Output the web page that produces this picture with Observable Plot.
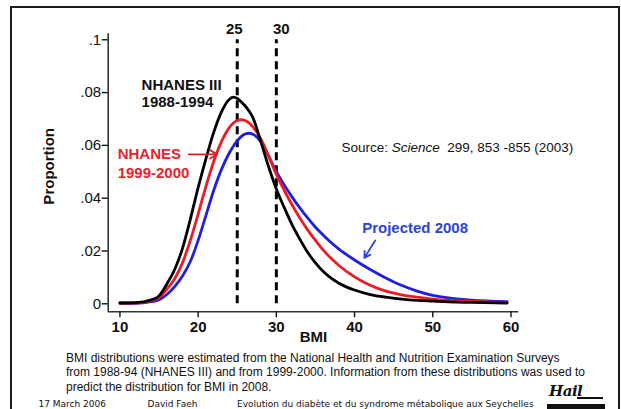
<!DOCTYPE html>
<html><head><meta charset="utf-8">
<script src="https://cdn.jsdelivr.net/npm/d3@7"></script>
<script src="https://cdn.jsdelivr.net/npm/@observablehq/plot@0.6"></script>
<style>
html,body{margin:0;padding:0;background:#fff;}
#page{position:relative;width:621px;height:409px;overflow:hidden;font-family:"Liberation Sans",Arial,sans-serif;background:#fff;}
#frame{position:absolute;left:10px;top:6px;width:606px;height:420px;border:2.5px solid #1b1b1b;border-bottom:none;}
#chart{position:absolute;left:0;top:0;}
#caption{position:absolute;left:66px;top:350.5px;font-size:12px;line-height:14.5px;color:#111;white-space:nowrap;}
.foot{position:absolute;top:399.3px;font-family:"DejaVu Sans",Verdana,sans-serif;font-size:9px;color:#111;white-space:nowrap;}
#logo{position:absolute;left:547px;top:382px;width:60px;height:30px;}
#logo .sig{position:absolute;left:2px;top:0;font-family:"DejaVu Serif",serif;font-style:italic;font-weight:bold;font-size:15px;color:#111;letter-spacing:-0.5px;}
#logo .ul{position:absolute;left:30px;top:15px;width:26px;height:1.5px;background:#111;}
#logo .bar{position:absolute;left:0;top:22px;width:58px;height:5px;background:#111;}
</style>
</head>
<body>
<div id="page">
  <div id="frame"></div>
  <div id="chart"></div>
  <div id="caption">BMI distributions were estimated from the National Health and Nutrition Examination Surveys<br>from 1988-94 (NHANES III) and from 1999-2000. Information from these distributions was used to<br>predict the distribution for BMI in 2008.</div>
  <div class="foot" style="left:38.5px">17 March 2006</div>
  <div class="foot" style="left:147.5px">David Faeh</div>
  <div class="foot" style="left:237px">Evolution du diabète et du syndrome métabolique aux Seychelles</div>
  <div id="logo"><div class="sig">Hail</div><div class="ul"></div><div class="bar"></div></div>
</div>
<script>
// BMI grid (x values) shared by the three distributions
const bmi      = [10, 12, 14, 15, 16, 17, 18, 19, 20, 21, 22, 23, 24, 24.5, 25, 25.5, 26, 26.5, 27, 28, 29, 30, 31, 32, 33, 34, 35, 36, 37, 38, 40, 42, 44, 46, 48, 50, 52, 55, 59.5];
// NHANES III 1988-1994 (black)
const nhanes3  = [0.0003, 0.0004, 0.0015, 0.003, 0.0075, 0.013, 0.021, 0.032, 0.044, 0.055, 0.065, 0.0728, 0.0775, 0.0783, 0.0778, 0.0765, 0.0750, 0.0730, 0.0705, 0.0615, 0.0520, 0.0435, 0.0365, 0.0300, 0.0245, 0.0195, 0.0155, 0.0122, 0.0097, 0.0078, 0.0052, 0.0035, 0.0025, 0.0018, 0.0013, 0.0010, 0.0007, 0.0005, 0.0003];
// NHANES 1999-2000 (red)
const nhanes99 = [0.0003, 0.0003, 0.0012, 0.0024, 0.0055, 0.0095, 0.0155, 0.024, 0.034, 0.0445, 0.054, 0.0615, 0.0668, 0.0685, 0.0694, 0.0697, 0.0694, 0.0685, 0.0670, 0.0625, 0.0560, 0.0490, 0.0430, 0.0375, 0.0325, 0.0280, 0.0240, 0.0203, 0.0172, 0.0145, 0.0102, 0.0070, 0.0048, 0.0034, 0.0025, 0.0018, 0.0013, 0.0009, 0.0005];
// Projected 2008 (blue)
const proj2008 = [0.0002, 0.0002, 0.0008, 0.0015, 0.0035, 0.0065, 0.0105, 0.016, 0.024, 0.0335, 0.0430, 0.0510, 0.0572, 0.0597, 0.0617, 0.0633, 0.0643, 0.0646, 0.0642, 0.0615, 0.0560, 0.0500, 0.0450, 0.0405, 0.0363, 0.0325, 0.0290, 0.0260, 0.0232, 0.0207, 0.0166, 0.0130, 0.0098, 0.0070, 0.0048, 0.0032, 0.0022, 0.0014, 0.0008];

const xTicks = [10, 20, 30, 40, 50, 60];
const yTicks = [0, 0.02, 0.04, 0.06, 0.08, 0.1];
const cutoffs = [25, 30];
const xDomain = [8.5, 61];
const yDomain = [-0.003, 0.1023];

// annotation texts and anchors (data coordinates)
const blackLabel = [{x: 12.77, y: 0.0829, t: "NHANES III"}, {x: 12.77, y: 0.0763, t: "1988-1994"}];
const redLabel   = [{x: 9.71, y: 0.0566, t: "NHANES"}, {x: 9.71, y: 0.0496, t: "1999-2000"}];
const blueLabel  = [{x: 40.97, y: 0.0286, t: "Projected 2008"}];
const sourceLabel = [{x: 38.32, y: 0.0592, t: "Source: Science  299, 853 -855 (2003)"}];
const redArrow  = [{x1: 18.8, y1: 0.0566, x2: 22.45, y2: 0.0566}];
const blueArrow = [{x1: 42.64, y1: 0.0240, x2: 41.26, y2: 0.0174}];

const RED = "#ec1c24", BLUE = "#1f1fdc", BLUE_TXT = "#2d45d6", RED_TXT = "#e8222b";
const rows = s => bmi.map((b, i) => ({bmi: b, p: s[i]}));
const font = "Liberation Sans, Arial, sans-serif";

const chart = Plot.plot({
  width: 621, height: 350,
  marginLeft: 107.7, marginRight: 102.7, marginTop: 33.2, marginBottom: 38.8,
  style: {fontFamily: font, background: "transparent", overflow: "visible", color: "#111"},
  x: {domain: xDomain},
  y: {domain: yDomain},
  marks: [
    Plot.ruleX([xDomain[0]], {stroke: "#333", strokeWidth: 1.6}),
    Plot.ruleY([yDomain[0]], {stroke: "#333", strokeWidth: 1.6}),
    Plot.axisX({ticks: xTicks, tickSize: 6, tickPadding: 4, fontSize: 15, fontWeight: "bold", label: null, strokeWidth: 1.4}),
    Plot.axisY({ticks: yTicks, tickSize: 6, tickPadding: 1, fontSize: 15, label: null, strokeWidth: 1.4,
      tickFormat: d => d === 0 ? "0" : d3.format(".2~f")(d).replace(/^0/, "")}),
    Plot.ruleX(cutoffs, {y1: 0, y2: 0.1, stroke: "#000", strokeWidth: 3, strokeDasharray: "8,5"}),
    Plot.text([cutoffs[0]], {x: d => d, frameAnchor: "top", text: d => String(d), dy: -10.5, dx: -3, fontSize: 15, fontWeight: "bold"}),
    Plot.text([cutoffs[1]], {x: d => d, frameAnchor: "top", text: d => String(d), dy: -10.5, dx: 5, fontSize: 15, fontWeight: "bold"}),
    Plot.line(rows(proj2008), {x: "bmi", y: "p", stroke: BLUE, strokeWidth: 2.8, curve: "monotone-x"}),
    Plot.line(rows(nhanes99), {x: "bmi", y: "p", stroke: RED, strokeWidth: 2.8, curve: "monotone-x"}),
    Plot.line(rows(nhanes3), {x: "bmi", y: "p", stroke: "#000", strokeWidth: 2.8, curve: "monotone-x"}),
    Plot.text(blackLabel, {x: "x", y: "y", text: "t", textAnchor: "start", fontSize: 15, fontWeight: "bold", fill: "#111"}),
    Plot.text(redLabel, {x: "x", y: "y", text: "t", textAnchor: "start", fontSize: 15, fontWeight: "bold", fill: RED_TXT}),
    Plot.text(blueLabel, {x: "x", y: "y", text: "t", textAnchor: "start", fontSize: 15, fontWeight: "bold", fill: BLUE_TXT}),
    Plot.text(sourceLabel, {x: "x", y: "y", text: "t", textAnchor: "start", fontSize: 13.5, fill: "#111"}),
    Plot.arrow(redArrow, {x1: "x1", y1: "y1", x2: "x2", y2: "y2", stroke: RED, strokeWidth: 1.8, headLength: 7}),
    Plot.arrow(blueArrow, {x1: "x1", y1: "y1", x2: "x2", y2: "y2", stroke: BLUE_TXT, strokeWidth: 1.8, headLength: 7}),
    Plot.text(["Proportion"], {frameAnchor: "left", textAnchor: "middle", text: d => d, rotate: -90, dx: -59, dy: -6.4, fontSize: 15, fontWeight: "bold"}),
    Plot.text(["BMI"], {frameAnchor: "bottom", text: d => d, dy: 30.5, fontSize: 15, fontWeight: "bold"})
  ]
});
document.getElementById("chart").appendChild(chart);

// italicise the journal name in the source note
chart.querySelectorAll("text").forEach(t => {
  if (t.textContent.startsWith("Source:")) {
    const ns = "http://www.w3.org/2000/svg";
    t.textContent = "";
    t.setAttribute("xml:space", "preserve");
    const parts = [["Source: ", false], ["Science", true], ["  299, 853 -855 (2003)", false]];
    for (const [s, it] of parts) {
      const sp = document.createElementNS(ns, "tspan");
      sp.textContent = s;
      if (it) sp.setAttribute("font-style", "italic");
      t.appendChild(sp);
    }
  }
});
</script>
</body></html>
